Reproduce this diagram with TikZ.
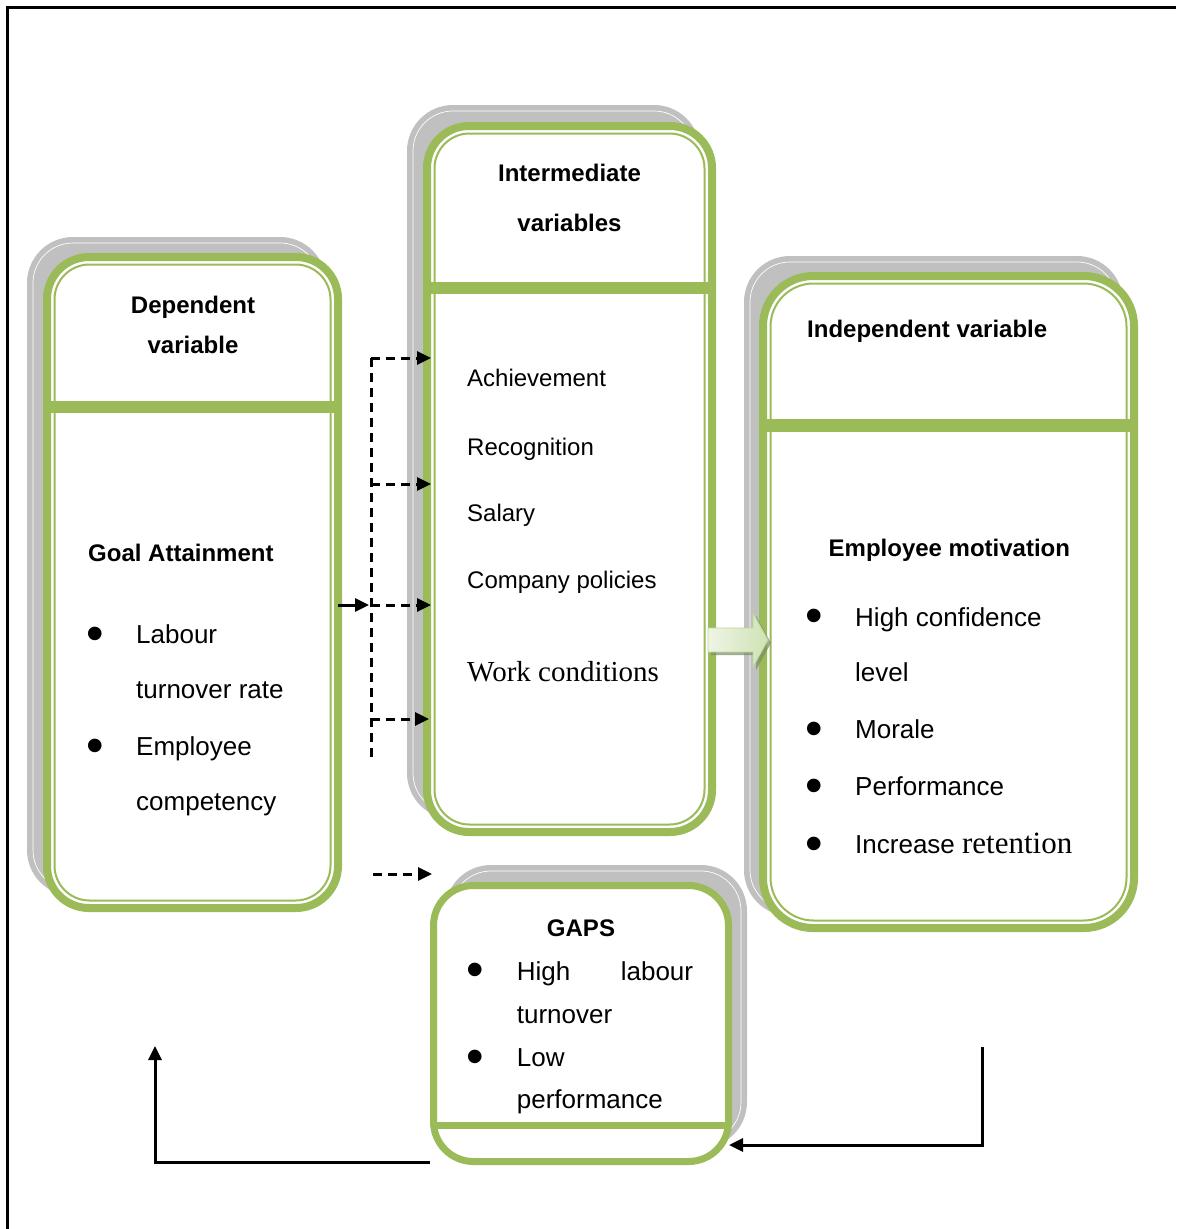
\documentclass[tikz,border=0pt]{standalone}
\usepackage{fontspec}
\setmainfont{Liberation Sans}
\newfontfamily\seriffont{Liberation Serif}
\usetikzlibrary{arrows.meta}
\definecolor{ogreen}{HTML}{9BBB59}
\definecolor{shadowgray}{HTML}{C0C0C0}
\definecolor{arrowlight}{HTML}{EEF5E4}
\definecolor{arrowdark}{HTML}{CFE2B4}
\definecolor{arrowedge}{HTML}{BDD69A}
\begin{document}
\begin{tikzpicture}[x=1pt,y=-1pt,
  shadowbox/.style={fill=shadowgray, draw=none, rounded corners=46pt, inner sep=0pt, outer sep=0pt},
  shadowline/.style={draw=white, line width=0.7pt, rounded corners=40pt, inner sep=0pt},
  mainbox/.style={draw=ogreen, line width=8pt, fill=white, rounded corners=42pt, inner sep=0pt},
  innerbox/.style={draw=ogreen, line width=2pt, rounded corners=35pt, inner sep=0pt},
  divider/.style={draw=ogreen, line width=12pt},
  headtxt/.style={font=\fontsize{24}{28}\selectfont\bfseries, inner sep=0pt},
  itemtxt/.style={font=\fontsize{26}{30}\selectfont, inner sep=0pt, anchor=base west},
  listtxt/.style={font=\fontsize{24}{28}\selectfont, inner sep=0pt, anchor=base west},
  bul/.style={font=\fontsize{50}{52}\selectfont, inner sep=0pt, yshift=-4pt},
  arr/.style={-{Triangle[length=14pt,width=13pt]}, line width=3pt},
  darr/.style={arr, dash pattern=on 9pt off 6pt}]
\useasboundingbox (0,0) rectangle (1176,1229);
\fill[white] (0,0) rectangle (1176,1229);
% outer frame
\draw[line width=3pt] (7,1229) -- (7,7) -- (1176,7);

% ---------- shadows ----------
\node[shadowbox, minimum width=299pt, minimum height=659pt] (depS) at (176.5,566.5) {};
\node[shadowline, minimum width=287pt, minimum height=647pt] at (176.5,566.5) {};
\node[shadowbox, minimum width=293pt, minimum height=714pt] (midS) at (553.5,462) {};
\node[shadowline, minimum width=281pt, minimum height=702pt] at (553.5,462) {};
\node[shadowbox, minimum width=379pt, minimum height=660pt] (indS) at (933.5,586) {};
\node[shadowline, minimum width=367pt, minimum height=648pt] at (933.5,586) {};
\node[shadowbox, minimum width=302pt, minimum height=283pt] (gapS) at (596,1006.5) {};
\node[shadowline, minimum width=290pt, minimum height=271pt] at (596,1006.5) {};

% ---------- main boxes ----------
\node[mainbox, minimum width=291pt, minimum height=651pt] (dep) at (192.5,582.5) {};
\node[innerbox, minimum width=276pt, minimum height=636pt] at (192.5,582.5) {};
\draw[divider] (47,407) -- (338,407);

\node[mainbox, minimum width=285pt, minimum height=706pt] (mid) at (569.5,479) {};
\node[innerbox, minimum width=270pt, minimum height=691pt] at (569.5,479) {};
\draw[divider] (427,287.5) -- (712,287.5);

\node[mainbox, minimum width=371pt, minimum height=652pt, rounded corners=50pt] (ind) at (948.5,602) {};
\node[innerbox, minimum width=356pt, minimum height=637pt, rounded corners=43pt] at (948.5,602) {};
\draw[divider, line width=13pt] (763,425) -- (1134,425);

\node[mainbox, line width=7pt, minimum width=295pt, minimum height=276pt, rounded corners=40pt] (gaps) at (581,1023.5) {};
\draw[divider, line width=7pt] (433.5,1125) -- (728.5,1125);

% ---------- texts: dependent ----------
\node[headtxt, anchor=base] (depT1) at (193,313.3) {Dependent};
\node[headtxt, anchor=base] (depT2) at (193,353) {variable};
\node[headtxt, anchor=base west] (goal) at (88,561.7) {Goal Attainment};
\node[bul] at (95,635) {•};
\node[itemtxt] at (136,643.3) {Labour};
\node[itemtxt] at (136,698.3) {turnover rate};
\node[bul] at (95,746.7) {•};
\node[itemtxt] at (136,755) {Employee};
\node[itemtxt] at (136,810) {competency};

% ---------- texts: intermediate ----------
\node[headtxt, anchor=base] (midT1) at (569.5,181.7) {Intermediate};
\node[headtxt, anchor=base] (midT2) at (569.5,231.7) {variables};
\node[listtxt] (ach) at (467,386.7) {Achievement};
\node[listtxt] (rec) at (467,455) {Recognition};
\node[listtxt] (sal) at (467,521.7) {Salary};
\node[listtxt] (pol) at (467,588.3) {Company policies};
\node[listtxt, font=\seriffont\fontsize{29}{32}\selectfont] (work) at (467,681.7) {Work conditions};

% ---------- texts: independent ----------
\node[headtxt, anchor=base west] (indT) at (807,337) {Independent variable};
\node[headtxt, anchor=base west] (mot) at (828.5,556.7) {Employee motivation};
\node[bul] at (814,617.3) {•};
\node[itemtxt] at (855,626.7) {High confidence};
\node[itemtxt] at (855,681.7) {level};
\node[bul] at (814,730) {•};
\node[itemtxt] at (855,738.3) {Morale};
\node[bul] at (814,786.7) {•};
\node[itemtxt] at (855,795) {Performance};
\node[bul] at (814,845) {•};
\node[itemtxt] at (855,853.3) {Increase {\seriffont\fontsize{31}{34}\selectfont retention}};

% ---------- texts: gaps ----------
\node[headtxt, anchor=base] (gapT) at (581,936.7) {GAPS};
\node[bul] at (475,970.7) {•};
\node[itemtxt] at (516.7,980) {High};
\node[itemtxt, anchor=base east] at (693.3,980) {labour};
\node[itemtxt] at (516.7,1023.3) {turnover};
\node[bul] at (475,1058.3) {•};
\node[itemtxt] at (516.7,1066.7) {Low};
\node[itemtxt] at (516.7,1108.3) {performance};

% ---------- connectors ----------
\coordinate (vtop) at (371,358);
\coordinate (v2) at (371,484);
\coordinate (v3) at (371,605);
\coordinate (v4) at (371,719);
\coordinate (vbot) at (371,760);
\coordinate (t1) at (431,358);
\coordinate (t2) at (431,484);
\coordinate (t3) at (431,605);
\coordinate (t4) at (429,719);
\draw[line width=3pt, dash pattern=on 9pt off 6pt] (vtop) -- (vbot);
\draw[darr] (vtop) -- (t1);
\draw[darr] (v2) -- (t2);
\draw[darr] (v3) -- (t3);
\draw[darr] (v4) -- (t4);
\draw[arr] ([xshift=-4pt]dep.east |- v3) -- ([xshift=-2pt]v3);

\coordinate (g0) at (373,874);
\coordinate (g1) at (432,874);
\draw[darr] (g0) -- (g1);

\coordinate (lb) at (155,1162);
\coordinate (lt) at (155,1046);
\draw[arr] (gaps.west |- lb) -- (lb) -- (lt);

\coordinate (rt) at (982,1047);
\coordinate (rb) at (982,1145);
\draw[arr] (rt) -- (rb) -- ([xshift=-3pt]gaps.east |- rb);

% ---------- block arrow ----------
\fill[black!35!arrowedge, opacity=0.7] (711,631) -- (756,631) -- (756,616) -- (771,643) -- (756,670) -- (756,655) -- (711,655) -- cycle;
\shade[left color=arrowlight, right color=arrowdark, draw=arrowedge, line width=0.8pt]
  (708,628) -- (753,628) -- (753,613) -- (768,640) -- (753,667) -- (753,652) -- (708,652) -- cycle;
\end{tikzpicture}
\end{document}
